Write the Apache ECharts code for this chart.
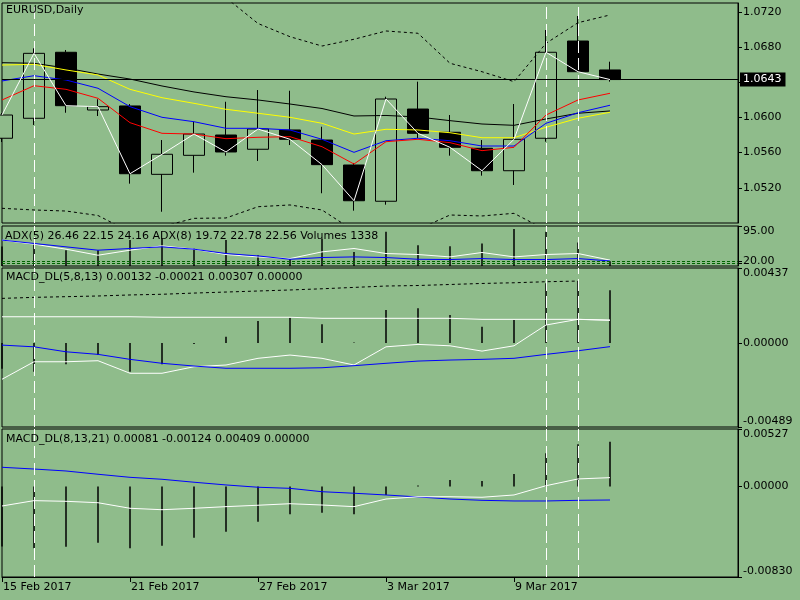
<!DOCTYPE html>
<html><head><meta charset="utf-8">
<script src="https://cdn.jsdelivr.net/npm/echarts@6/dist/echarts.min.js"></script>
<style>html,body{margin:0;padding:0;background:#8fbc8b}#c{width:800px;height:600px}</style>
</head><body><div id="c"></div>
<script>
// ---- categories ----
const dates = ['15 Feb 2017','16 Feb 2017','17 Feb 2017','20 Feb 2017','21 Feb 2017','22 Feb 2017','23 Feb 2017','24 Feb 2017','27 Feb 2017','28 Feb 2017','1 Mar 2017','2 Mar 2017','3 Mar 2017','6 Mar 2017','7 Mar 2017','8 Mar 2017','9 Mar 2017','10 Mar 2017','13 Mar 2017','14 Mar 2017'];
const emptySlots = 4;
// ---- main price panel ----
const openVals  = [1.05763,1.05990,1.06740,1.06084,1.06130,1.05353,1.05569,1.05800,1.05638,1.05857,1.05743,1.05459,1.05047,1.06095,1.05831,1.05649,1.05394,1.05763,1.06868,1.06539];
const closeVals = [1.06027,1.06728,1.06133,1.06122,1.05360,1.05581,1.05811,1.05607,1.05868,1.05751,1.05463,1.05053,1.06209,1.05819,1.05660,1.05394,1.05751,1.06740,1.06519,1.06430];
const lowVals   = [1.05720,1.05914,1.06053,1.06016,1.05247,1.04928,1.05372,1.05565,1.05505,1.05686,1.05138,1.04940,1.05008,1.05766,1.05565,1.05338,1.05232,1.05724,1.06516,1.06406];
const highVals  = [1.06050,1.06785,1.06766,1.06206,1.06152,1.05743,1.05951,1.06178,1.06311,1.06303,1.05894,1.05482,1.06235,1.06406,1.06027,1.05743,1.06152,1.06993,1.07152,1.06633];
const maBlack  = [1.06622,1.06615,1.06561,1.06493,1.06436,1.06357,1.06289,1.06235,1.06198,1.06152,1.06101,1.06016,1.06022,1.06005,1.05963,1.05925,1.05910,1.05982,1.06047,1.06073];
const maYellow = [1.06595,1.06603,1.06539,1.06482,1.06319,1.06224,1.06160,1.06092,1.06047,1.06001,1.05933,1.05811,1.05865,1.05857,1.05826,1.05769,1.05769,1.05888,1.05990,1.06058];
const maBlue   = [1.06414,1.06474,1.06425,1.06331,1.06122,1.06001,1.05951,1.05876,1.05876,1.05857,1.05751,1.05603,1.05735,1.05763,1.05735,1.05675,1.05675,1.05933,1.06053,1.06138];
const maRed    = [1.06198,1.06360,1.06319,1.06217,1.05940,1.05819,1.05811,1.05758,1.05774,1.05781,1.05667,1.05470,1.05724,1.05751,1.05713,1.05622,1.05660,1.06027,1.06198,1.06274];
const bandUpper = [1.0778,1.0775,1.0770,1.0765,1.0760,1.0752,1.0745,1.0736,1.07067,1.06917,1.06811,1.06888,1.06982,1.06956,1.06615,1.06519,1.06406,1.06842,1.07076,1.07164];
const bandLower = [1.04967,1.04948,1.04936,1.04885,1.04698,1.04759,1.04853,1.04857,1.04985,1.05005,1.04948,1.04711,1.04664,1.04726,1.04891,1.04880,1.04910,1.04720,1.04607,1.04550];
const priceTicks = [1.0520,1.0560,1.0600,1.0680,1.0720];
// ---- ADX / volumes panel ----
const adxWhite = [65.0,56.4,45.7,32.9,43.6,52.8,45.7,34.4,29.3,25.8,40.0,47.2,36.5,34.4,29.3,38.7,29.3,34.4,36.5,22.5];
const adxBlue  = [65.0,57.9,50.7,43.6,47.2,50.7,45.7,36.5,31.4,24.3,28.0,29.3,28.0,24.3,23.7,25.8,23.7,23.7,25.8,20.7];
const volumes  = [5500,6376,4469,4469,7315,7799,4953,7315,3046,2106,7600,3985,9678,5892,5607,6376,10446,9678,6661,1338];
const adxLevels = [20,15];
const adxTicks = [10,20,95];
// ---- MACD_DL(5,8,13) ----
const m1Dash  = [0.00260,0.00266,0.00270,0.00274,0.00280,0.00284,0.00291,0.00297,0.00303,0.00309,0.00316,0.00324,0.00332,0.00335,0.00341,0.00347,0.00351,0.00357,0.00361,null];
const m1Flat  = [0.00153,0.00153,0.00153,0.00153,0.00153,0.00150,0.00150,0.00150,0.00150,0.00150,0.00144,0.00144,0.00144,0.00144,0.00144,0.00138,0.00138,0.00138,0.00138,0.00132];
const m1Wave  = [-0.00211,-0.00109,-0.00109,-0.00103,-0.00176,-0.00176,-0.00138,-0.00128,-0.00089,-0.00070,-0.00089,-0.00128,-0.00022,-0.00008,-0.00016,-0.00047,-0.00016,0.00105,0.00138,0.00134];
const m1Blue  = [-0.00012,-0.00022,-0.00051,-0.00066,-0.00095,-0.00118,-0.00134,-0.00147,-0.00147,-0.00147,-0.00144,-0.00132,-0.00118,-0.00105,-0.00099,-0.00095,-0.00089,-0.00066,-0.00045,-0.00021];
const m1Hist  = [-0.00150,-0.00167,-0.00124,-0.00070,-0.00167,-0.00124,-0.00005,0.00037,0.00128,0.00147,0.00109,0.00003,0.00192,0.00202,0.00163,0.00095,0.00134,0.00348,0.00361,0.00307];
const m1Ticks = [-0.00489,0,0.00437];
// ---- MACD_DL(8,13,21) ----
const m2Blue  = [0.00176,0.00160,0.00142,0.00112,0.00084,0.00066,0.00039,0.00014,-0.00007,-0.00017,-0.00048,-0.00062,-0.00078,-0.00096,-0.00115,-0.00127,-0.00133,-0.00133,-0.00127,-0.00124];
const m2White = [-0.00179,-0.00130,-0.00136,-0.00149,-0.00200,-0.00213,-0.00200,-0.00185,-0.00172,-0.00158,-0.00170,-0.00185,-0.00115,-0.00094,-0.00094,-0.00099,-0.00078,0.00007,0.00069,0.00081];
const m2Hist  = [-0.00550,-0.00567,-0.00552,-0.00515,-0.00567,-0.00543,-0.00469,-0.00414,-0.00323,-0.00255,-0.00240,-0.00255,-0.00078,0.00010,0.00060,0.00050,0.00115,0.00304,0.00387,0.00409];
const m2Ticks = [-0.00830,0,0.00527];
const markedBars = [1,17,18];

// ---- build ----
const cats = dates.concat(Array(emptySlots).fill(''));
const ohlc = dates.map((d,i)=>[openVals[i],closeVals[i],lowVals[i],highVals[i]]);
const lastClose = closeVals[closeVals.length-1];
const FONT = 'DejaVu Sans';
const BG = '#8fbc8b';
const grids = [
  {left:2,right:62,top:3,height:220},
  {left:2,right:62,top:226,height:40},
  {left:2,right:62,top:268,height:159},
  {left:2,right:62,top:429,height:148}
].map(g=>Object.assign(g,{show:true,borderColor:'#000',borderWidth:1,backgroundColor:'transparent'}));

const every4 = (idx,val)=> idx%4===0 && val!=='';
const xAxes = [0,1,2,3].map(i=>({
  type:'category', gridIndex:i, data:cats, boundaryGap:false, position:'bottom',
  axisLine:{show:i===3,onZero:false,lineStyle:{color:'#000'}},
  axisTick:{show:i===3,interval:every4,length:5,lineStyle:{color:'#000'}},
  axisLabel:{show:i===3,interval:every4,align:'left',color:'#000',fontSize:11,fontFamily:FONT,margin:5,padding:[0,0,0,1]},
  splitLine:{show:false}
}));

function rAxis(grid,min,max,labels,ticks,digits,edgeAlign){
  const lab = {customValues:labels,formatter:v=>v.toFixed(digits),color:'#000',fontSize:11,fontFamily:FONT,margin:5,hideOverlap:false};
  if(edgeAlign){lab.verticalAlignMinLabel='bottom';lab.verticalAlignMaxLabel='top';}
  return {type:'value',gridIndex:grid,position:'right',min:min,max:max,
    axisLine:{show:true,onZero:false,lineStyle:{color:'#000'}},
    axisTick:{show:true,customValues:ticks,length:4,lineStyle:{color:'#000'}},
    axisLabel:lab, splitLine:{show:false}};
}
const yAxes = [
  rAxis(0,1.0480,1.0730,priceTicks,priceTicks.concat([1.0640]),4,false),
  rAxis(1,10,95,adxTicks,adxTicks.concat(adxLevels),2,true),
  {type:'value',gridIndex:1,min:0,max:11300,show:false,splitLine:{show:false}},
  rAxis(2,-0.00489,0.00437,m1Ticks,m1Ticks,5,true),
  rAxis(3,-0.00830,0.00527,m2Ticks,m2Ticks,5,true)
];

const vLines = markedBars.map(i=>({xAxis:dates[i]}));
const vLineStyle = {color:'#fff',width:1,type:[12,5]};
function mk(extra){
  return {silent:true,symbol:'none',precision:6,label:{show:false},lineStyle:vLineStyle,data:vLines.concat(extra||[])};
}
function line(x,y,data,color,type,z){
  return {type:'line',xAxisIndex:x,yAxisIndex:y,data:data,symbol:'none',showSymbol:false,
    lineStyle:{color:color,width:1,type:type||'solid'},itemStyle:{color:color},z:z||3,connectNulls:false};
}

const series = [
  line(0,0,bandUpper,'#000',[3,3]),
  line(0,0,bandLower,'#000',[3,3]),
  {type:'candlestick',xAxisIndex:0,yAxisIndex:0,data:ohlc,barWidth:21,clip:true,z:2,
    itemStyle:{color:BG,color0:'#000',borderColor:'#000',borderColor0:'#000',borderWidth:1},
    markLine:mk()},
  Object.assign(line(0,0,maBlack,'#000'),{markLine:{silent:true,symbol:'none',precision:6,
    data:[{yAxis:lastClose}],lineStyle:{color:'#000',type:'solid',width:1},
    label:{show:true,position:'end',distance:2,formatter:()=>lastClose.toFixed(4),color:'#fff',backgroundColor:'#000',padding:[2,4,1,3],fontSize:11,fontFamily:FONT}}}),
  line(0,0,maYellow,'#ffff00'),
  line(0,0,maBlue,'#0000ff'),
  line(0,0,maRed,'#ff0000'),
  line(0,0,closeVals,'#ffffff',null,6),
  // ADX
  {type:'bar',xAxisIndex:1,yAxisIndex:2,data:volumes,barWidth:1.5,itemStyle:{color:'#000'},z:2},
  line(1,1,adxWhite,'#ffffff'),
  Object.assign(line(1,1,adxBlue,'#0000ff'),{markLine:{silent:true,symbol:'none',precision:6,label:{show:false},lineStyle:vLineStyle,
    data:vLines.concat(adxLevels.map(v=>({yAxis:v,lineStyle:{color:'#006400',type:[3,2],width:1}})))}}),
  // MACD1
  line(2,3,m1Dash,'#000',[3,3]),
  line(2,3,m1Flat,'#ffffff'),
  line(2,3,m1Wave,'#ffffff'),
  line(2,3,m1Blue,'#0000ff'),
  {type:'bar',xAxisIndex:2,yAxisIndex:3,data:m1Hist,barWidth:1.5,itemStyle:{color:'#000'},z:2,markLine:mk()},
  // MACD2
  line(3,4,m2Blue,'#0000ff'),
  line(3,4,m2White,'#ffffff'),
  {type:'bar',xAxisIndex:3,yAxisIndex:4,data:m2Hist,barWidth:1.5,itemStyle:{color:'#000'},z:2,markLine:mk()}
];

const ts = {color:'#000',fontSize:11,fontWeight:'normal',fontFamily:FONT};
const chart = echarts.init(document.getElementById('c'));
chart.setOption({
  animation:false,
  backgroundColor:BG,
  textStyle:{fontFamily:FONT},
  title:[
    {text:'EURUSD,Daily',left:6,top:5,padding:0,textStyle:ts},
    {text:'ADX(5) 26.46 22.15 24.16 ADX(8) 19.72 22.78 22.56 Volumes 1338',left:5,top:231,padding:0,textStyle:ts},
    {text:'MACD_DL(5,8,13) 0.00132 -0.00021 0.00307 0.00000',left:6,top:272,padding:0,textStyle:ts},
    {text:'MACD_DL(8,13,21) 0.00081 -0.00124 0.00409 0.00000',left:6,top:434,padding:0,textStyle:ts}
  ],
  grid:grids, xAxis:xAxes, yAxis:yAxes, series:series
});
</script></body></html>
